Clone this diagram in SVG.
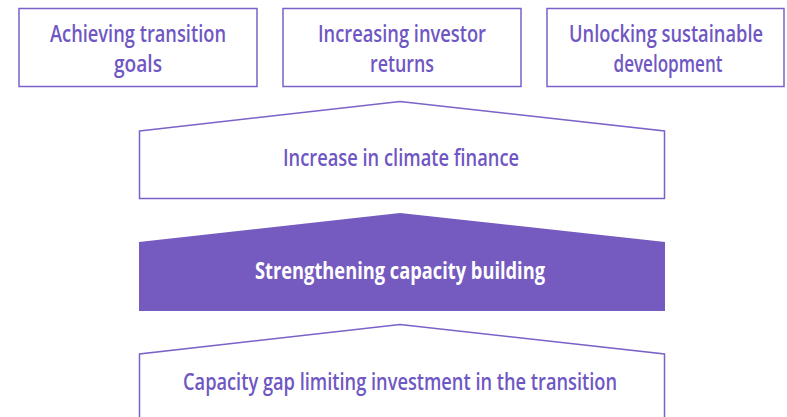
<svg xmlns="http://www.w3.org/2000/svg" width="787" height="417" viewBox="0 0 787 417">
  <style>
    .box { fill: #ffffff; stroke: #7A62C8; stroke-width: 1.5; }
    .solid { fill: #755ABF; stroke: none; }
    .lbl { font-family: "Open Sans", "Liberation Sans", sans-serif; font-size: 22.5px; font-weight: 600; fill: #6F57C3; text-anchor: middle; }
    .lbl-inv { font-family: "Open Sans", "Liberation Sans", sans-serif; font-size: 22.5px; font-weight: 700; fill: #ffffff; text-anchor: middle; }
  </style>
  <rect width="787" height="417" fill="#ffffff"/>

  <!-- outcome boxes -->
  <g id="goals">
    <rect class="box" x="19" y="8.5" width="238" height="78"/>
    <text class="lbl" x="138" y="42" textLength="176" lengthAdjust="spacingAndGlyphs">Achieving transition</text>
    <text class="lbl" x="138" y="72" textLength="48" lengthAdjust="spacingAndGlyphs">goals</text>
  </g>
  <g id="returns">
    <rect class="box" x="283" y="8.5" width="238" height="78"/>
    <text class="lbl" x="402" y="42" textLength="168" lengthAdjust="spacingAndGlyphs">Increasing investor</text>
    <text class="lbl" x="402" y="72" textLength="64" lengthAdjust="spacingAndGlyphs">returns</text>
  </g>
  <g id="development">
    <rect class="box" x="547" y="8.5" width="237" height="78"/>
    <text class="lbl" x="666" y="42" textLength="194" lengthAdjust="spacingAndGlyphs">Unlocking sustainable</text>
    <text class="lbl" x="668" y="72" textLength="109" lengthAdjust="spacingAndGlyphs">development</text>
  </g>

  <!-- stacked house-shaped layers -->
  <g id="climate-finance">
    <path class="box" d="M139.5,131 L400,101.5 L664.5,131 L664.5,198.5 L139.5,198.5 Z"/>
    <text class="lbl" x="401" y="166" textLength="236" lengthAdjust="spacingAndGlyphs">Increase in climate finance</text>
  </g>
  <g id="capacity-building">
    <path class="solid" d="M139,242 L400,213 L665,242 L665,311 L139,311 Z"/>
    <text class="lbl-inv" x="400" y="279" textLength="290" lengthAdjust="spacingAndGlyphs">Strengthening capacity building</text>
  </g>
  <g id="capacity-gap">
    <path class="box" d="M139.5,418 L139.5,354 L400,324.5 L664.5,354 L664.5,418"/>
    <text class="lbl" x="400" y="390" textLength="434" lengthAdjust="spacingAndGlyphs">Capacity gap limiting investment in the transition</text>
  </g>

  <!-- no separate connectors in this layout -->
  <g id="connectors"></g>
</svg>
